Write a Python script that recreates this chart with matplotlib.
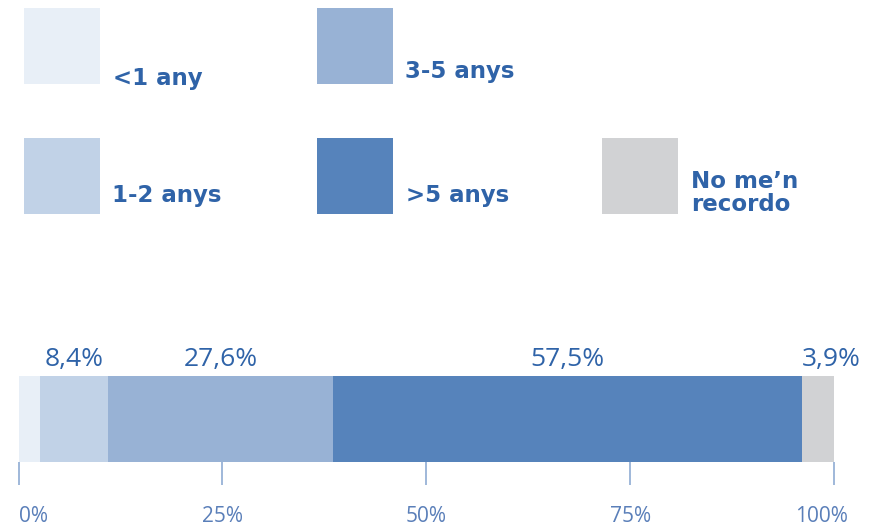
import matplotlib.pyplot as plt
from matplotlib.patches import Rectangle
from matplotlib.transforms import ScaledTranslation

# datos
categories = ["<1 any", "1-2 anys", "3-5 anys", ">5 anys", "No me\u2019n\nrecordo"]
values = [2.6, 8.4, 27.6, 57.5, 3.9]
value_labels = ["", "8,4%", "27,6%", "57,5%", "3,9%"]
tick_values = [0, 25, 50, 75, 100]
tick_labels = ["0%", "25%", "50%", "75%", "100%"]

colors = ["#e8eff7", "#c1d2e7", "#98b2d5", "#5683bb", "#d1d2d4"]
text_color = "#2f63a8"
tick_color = "#8fabd3"

W, H = 881, 526
fig = plt.figure(figsize=(W / 100, H / 100), dpi=100)

# leyenda (posiciones en pixeles: cuadro x, y, texto x, y de la ultima linea)
legend_pos = [
    (24, 8, 113, 85),
    (24, 138, 112, 202),
    (317, 8, 405, 78),
    (317, 138, 406, 202),
    (602, 138, 691, 211),
]
lax = fig.add_axes([0, 0, 1, 1])
lax.set_xlim(0, W)
lax.set_ylim(H, 0)
lax.axis("off")
for cat, col, (sx, sy, tx, ty) in zip(categories, colors, legend_pos):
    lax.add_patch(Rectangle((sx, sy), 76, 76, facecolor=col, edgecolor="none"))
    lax.text(tx, ty, cat, family="DejaVu Sans", weight="bold", fontsize=16.5,
             color=text_color, va="baseline", ha="left", linespacing=1.0)

# barra apilada
ax = fig.add_axes([18.5 / W, 1 - 462 / H, 815.5 / W, 86 / H])
left = 0
for v, col, lab in zip(values, colors, value_labels):
    ax.barh(0, v, left=left, height=1, color=col, edgecolor="none")
    if lab:
        if lab == value_labels[-1]:
            x, ha = left, "left"
        else:
            x, ha = left + v / 2, "center"
        ax.annotate(lab, (x, 0.5), xytext=(0, 7.5), textcoords="offset points",
                    ha=ha, va="baseline", fontsize=19, family="Open Sans",
                    color=text_color, annotation_clip=False)
    left += v

ax.set_xlim(0, 100)
ax.set_ylim(-0.5, 0.5)
for s in ax.spines.values():
    s.set_visible(False)
ax.set_yticks([])
ax.set_xticks(tick_values)
ax.set_xticklabels(tick_labels, family="Open Sans", fontsize=15, color="#5a7fb9")
ax.tick_params(axis="x", length=16.5, width=1.2, color=tick_color, pad=15)
tl = ax.get_xticklabels()
tl[0].set_horizontalalignment("left")
tl[-1].set_transform(tl[-1].get_transform() + ScaledTranslation(-0.12, 0, fig.dpi_scale_trans))

fig.savefig("out.png", dpi=100)
